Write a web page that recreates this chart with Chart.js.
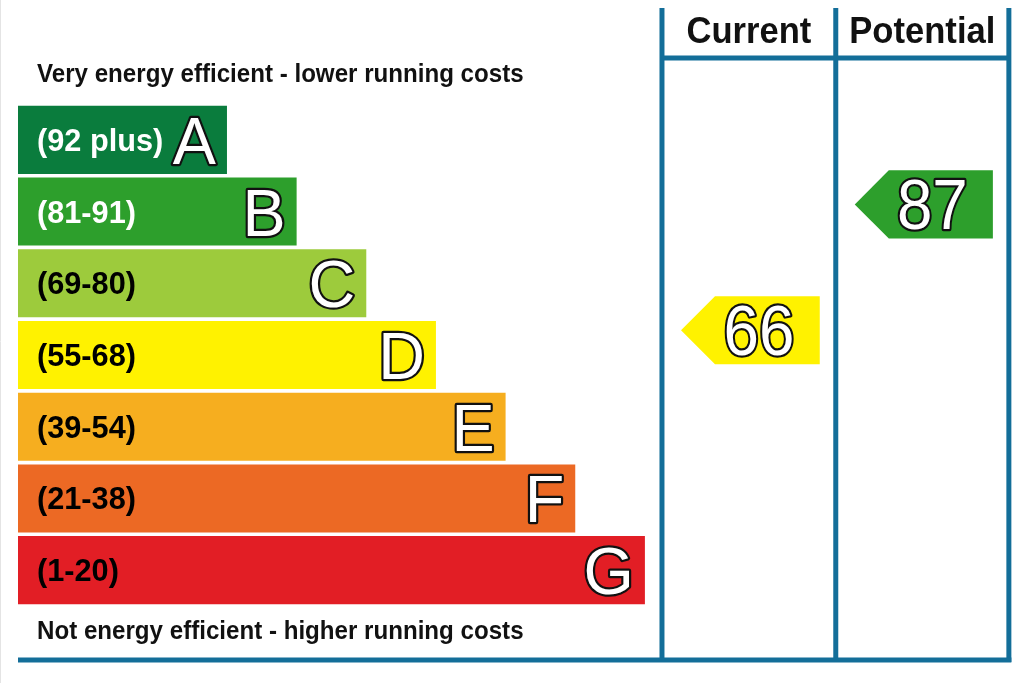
<!DOCTYPE html>
<html>
<head>
<meta charset="utf-8">
<script src="https://cdn.jsdelivr.net/npm/chart.js@4/dist/chart.umd.min.js"></script>
<style>
html,body{margin:0;padding:0;background:#fff;}
#wrap{width:1024px;height:683px;position:relative;}
</style>
</head>
<body>
<div id="wrap"><canvas id="c" width="1024" height="683"></canvas></div>
<script>
// ---- data ----
const bandLetters = ['A','B','C','D','E','F','G'];
const bandRanges = ['(92 plus)','(81-91)','(69-80)','(55-68)','(39-54)','(21-38)','(1-20)'];
const bandMin = [92,81,69,55,39,21,1];
const bandMax = [100,91,80,68,54,38,20];
const bandLengths = [3,4,5,6,7,8,9];
const columnTitles = ['Current','Potential'];
const ratings = [66, 87];
const topCaption = 'Very energy efficient - lower running costs';
const bottomCaption = 'Not energy efficient - higher running costs';

// ---- styles ----
const bandColors = ['#0a7c3d','#2d9f2c','#9dcb3c','#fff200','#f6ae1f','#ec6924','#e21e25'];
const rangeTextColors = ['#ffffff','#ffffff','#000000','#000000','#000000','#000000','#000000'];
const lineColor = '#136e99';
const FONT = '"Liberation Sans", Arial, sans-serif';
const colEdges = [9.245, 11.74, 14.225]; // x-scale units

function bandIndexOf(r){
  for(let i=0;i<bandMin.length;i++){ if(r>=bandMin[i] && r<=bandMax[i]) return i; }
  return bandMin.length-1;
}

function fitText(ctx, text, x, y, font, scaleX, align){
  ctx.save();
  ctx.font = font;
  const w = ctx.measureText(text).width*scaleX;
  let sx = x;
  if(align==='center') sx = x - w/2;
  else if(align==='right') sx = x - w;
  ctx.translate(sx, y);
  ctx.scale(scaleX, 1);
  ctx.textAlign = 'left';
  ctx.fillText(text, 0, 0);
  ctx.restore();
}
function outlineText(ctx, text, x, y, font, scaleX, align, lw){
  ctx.save();
  ctx.font = font;
  const w = ctx.measureText(text).width*scaleX;
  let sx = x;
  if(align==='center') sx = x - w/2;
  else if(align==='right') sx = x - w;
  ctx.translate(sx, y);
  ctx.scale(scaleX, 1);
  ctx.textAlign = 'left';
  ctx.lineJoin = 'round';
  ctx.lineWidth = lw;
  ctx.strokeStyle = '#111';
  ctx.strokeText(text, 0, 0);
  ctx.fillStyle = '#fff';
  ctx.fillText(text, 0, 0);
  ctx.restore();
}

const epcPlugin = {
  id: 'epc',
  afterDatasetsDraw(chart){
    const ctx = chart.ctx;
    const xs = chart.scales.x, ys = chart.scales.y;
    const meta = chart.getDatasetMeta(0);
    ctx.save();
    ctx.textBaseline = 'alphabetic';

    // faint left edge
    ctx.strokeStyle = '#e4e4e4'; ctx.lineWidth = 1;
    ctx.beginPath(); ctx.moveTo(0.5,0); ctx.lineTo(0.5,683); ctx.stroke();

    // band labels
    meta.data.forEach((bar, i) => {
      const cy = bar.y;
      ctx.fillStyle = rangeTextColors[i];
      fitText(ctx, bandRanges[i], 37, cy + 11, 'bold 31px ' + FONT, 0.99, 'left');
      outlineText(ctx, bandLetters[i], bar.x - 11, cy + 24, '66px ' + FONT, 0.98, 'right', 4.5);
    });

    // captions
    ctx.fillStyle = '#111';
    fitText(ctx, topCaption, 37, 82, 'bold 25px ' + FONT, 0.965, 'left');
    fitText(ctx, bottomCaption, 37, 639, 'bold 25px ' + FONT, 0.965, 'left');

    // column frame
    const px = colEdges.map(v => xs.getPixelForValue(v));
    ctx.strokeStyle = lineColor; ctx.lineWidth = 5; ctx.lineCap = 'butt';
    px.forEach(x => { ctx.beginPath(); ctx.moveTo(x, 8); ctx.lineTo(x, 662); ctx.stroke(); });
    ctx.beginPath(); ctx.moveTo(px[0], 58); ctx.lineTo(px[2], 58); ctx.stroke();
    ctx.beginPath(); ctx.moveTo(xs.getPixelForValue(0), 660); ctx.lineTo(px[2] + 2.5, 660); ctx.stroke();

    // headers
    ctx.fillStyle = '#111';
    columnTitles.forEach((t, k) => {
      fitText(ctx, t, (px[k] + px[k+1]) / 2, 43, 'bold 37px ' + FONT, 0.935, 'center');
    });

    // arrows
    const barH = meta.data[0].height;
    ratings.forEach((r, k) => {
      const i = bandIndexOf(r);
      const frac = (r - bandMin[i]) / (bandMax[i] - bandMin[i]);
      const cy = ys.getPixelForValue(i + 0.5 - frac);
      const x0 = px[k] + 19, x1 = px[k+1] - 16;
      const h = barH, d = h / 2;
      ctx.fillStyle = bandColors[i];
      ctx.beginPath();
      ctx.moveTo(x0, cy);
      ctx.lineTo(x0 + d, cy - h/2);
      ctx.lineTo(x1, cy - h/2);
      ctx.lineTo(x1, cy + h/2);
      ctx.lineTo(x0 + d, cy + h/2);
      ctx.closePath();
      ctx.fill();
      outlineText(ctx, String(r), (x0 + d/2 + x1) / 2, cy + 25, '70px ' + FONT, 0.91, 'center', 4.5);
    });
    ctx.restore();
  }
};

new Chart(document.getElementById('c'), {
  type: 'bar',
  data: {
    labels: bandLetters,
    datasets: [{
      data: bandLengths,
      backgroundColor: bandColors,
      borderWidth: 0,
      barPercentage: 0.949,
      categoryPercentage: 1
    }]
  },
  options: {
    indexAxis: 'y',
    responsive: false,
    animation: false,
    layout: { padding: { left: 18, right: 12, top: 104, bottom: 77 } },
    scales: {
      x: { display: false, min: 0, max: 14.27 },
      y: { display: false }
    },
    plugins: { legend: { display: false }, tooltip: { enabled: false }, title: { display: false } }
  },
  plugins: [epcPlugin]
});
</script>
</body>
</html>
